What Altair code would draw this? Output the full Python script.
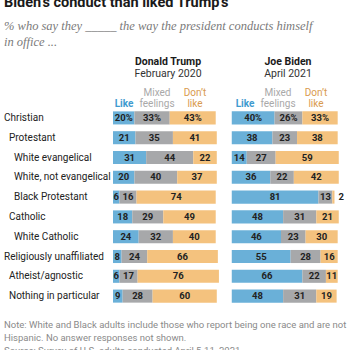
import altair as alt
import pandas as pd

categories = ["Christian", "Protestant", "White evangelical", "White, not evangelical",
              "Black Protestant", "Catholic", "White Catholic", "Religiously unaffiliated",
              "Atheist/agnostic", "Nothing in particular"]
indent = [0, 1, 2, 2, 2, 1, 2, 0, 1, 1]
responses = ["Like", "Mixed feelings", "Don't like"]

trump_like = [20, 21, 31, 20, 6, 18, 24, 8, 6, 9]
trump_mixed = [33, 35, 44, 40, 16, 29, 32, 24, 17, 28]
trump_dislike = [43, 41, 22, 37, 74, 49, 40, 66, 76, 60]

biden_like = [40, 38, 14, 36, 81, 48, 46, 55, 66, 48]
biden_mixed = [26, 23, 27, 22, 13, 31, 23, 28, 22, 31]
biden_dislike = [33, 38, 59, 42, 2, 21, 30, 16, 11, 19]

FONT = "Roboto"
COLORS = ["#6AB0D8", "#A7A8AA", "#F4C27E"]
BIDEN_OFFSET = 111  # panel offset on shared x scale

rows = []
for panel, off, series in [("Trump", 0, [trump_like, trump_mixed, trump_dislike]),
                           ("Biden", BIDEN_OFFSET, [biden_like, biden_mixed, biden_dislike])]:
    for i, cat in enumerate(categories):
        s = off
        for r, vals in zip(responses, series):
            v = vals[i]
            rows.append({
                "panel": panel, "cat": cat, "resp": r, "value": v,
                "start": s, "end": s + v, "mid": s + v / 2,
                "label": f"{v}%" if i == 0 else f"{v}",
            })
            s += v
bars_df = pd.DataFrame(rows)
cats_df = pd.DataFrame({"cat": categories, "indent": indent})

xscale = alt.Scale(domain=[0, 221.5], nice=False, zero=False)
yscale = alt.Scale(domain=categories, paddingInner=0.34, paddingOuter=0.17)

base = alt.Chart(bars_df)

bars = base.mark_bar(cornerRadius=0).encode(
    x=alt.X("start:Q", scale=xscale, axis=None),
    x2="end:Q",
    y=alt.Y("cat:N", scale=yscale, axis=None, sort=categories),
    color=alt.Color("resp:N", scale=alt.Scale(domain=responses, range=COLORS), legend=None),
)

labels = base.transform_filter("datum.value >= 4").mark_text(
    font=FONT, fontSize=9.5, fontWeight="bold", color="#222222", align="center", baseline="middle"
).encode(
    x=alt.X("mid:Q", scale=xscale, axis=None),
    y=alt.Y("cat:N", scale=yscale, axis=None, sort=categories),
    text="label:N",
)

small_labels = base.transform_filter("datum.value < 4").mark_text(
    font=FONT, fontSize=9.5, fontWeight="bold", color="#222222", align="left", baseline="middle", dx=4
).encode(
    x=alt.X("end:Q", scale=xscale, axis=None),
    y=alt.Y("cat:N", scale=yscale, axis=None, sort=categories),
    text="label:N",
)

cat_layers = []
for lvl in [0, 1, 2]:
    cat_layers.append(
        alt.Chart(cats_df).transform_filter(f"datum.indent == {lvl}").mark_text(
            font=FONT, fontSize=10, color="#222222", align="left", baseline="middle"
        ).encode(
            x=alt.value(-109 + 5 * lvl),
            y=alt.Y("cat:N", scale=yscale, axis=None, sort=categories),
            text="cat:N",
        )
    )


def txt(s, x, y, **kw):
    return alt.Chart(alt.Data(values=[{}])).mark_text(text=s, **kw).encode(
        x=alt.value(x), y=alt.value(y)
    )


texts = [
    txt("Biden\u2019s conduct than liked Trump\u2019s", -109, -101.5, font=FONT, fontSize=14.5,
        fontWeight="bold", color="#1a1a1a", align="left", baseline="alphabetic"),
    txt("% who say they _____ the way the president conducts himself", -109, -82,
        font="Liberation Serif", fontSize=12.5, fontStyle="italic", color="#7a7a7a",
        align="left", baseline="middle"),
    txt("in office ...", -109, -66, font="Liberation Serif", fontSize=12.5, fontStyle="italic",
        color="#7a7a7a", align="left", baseline="middle"),
    # panel headers
    txt("Donald Trump", 55, -46, font=FONT, fontSize=10.5, fontWeight="bold", color="#1a1a1a",
        align="center", baseline="middle"),
    txt("February 2020", 55, -34, font=FONT, fontSize=10.5, color="#333333",
        align="center", baseline="middle"),
    txt("Joe Biden", 175, -46, font=FONT, fontSize=10.5, fontWeight="bold", color="#1a1a1a",
        align="center", baseline="middle"),
    txt("April 2021", 175, -34, font=FONT, fontSize=10.5, color="#333333",
        align="center", baseline="middle"),
]
for xo in [0, 121]:
    texts += [
        txt("Like", 11 + xo, -4, font=FONT, fontSize=10, fontWeight="bold", color="#3f9bd0",
            align="center", baseline="middle"),
        txt("Mixed", 44 + xo, -15, font=FONT, fontSize=10, color="#a9a9a9",
            align="center", baseline="middle"),
        txt("feelings", 44 + xo, -4, font=FONT, fontSize=10, color="#a9a9a9",
            align="center", baseline="middle"),
        txt("Don\u2019t", 82 + xo, -15, font=FONT, fontSize=10, color="#d99a4e",
            align="center", baseline="middle"),
        txt("like", 82 + xo, -4, font=FONT, fontSize=10, color="#d99a4e",
            align="center", baseline="middle"),
    ]

texts += [
    txt("Note: White and Black adults include those who report being one race and are not", -109, 217,
        font=FONT, fontSize=9.5, color="#8a8a8a", align="left", baseline="middle"),
    txt("Hispanic. No answer responses not shown.", -109, 230,
        font=FONT, fontSize=9.5, color="#8a8a8a", align="left", baseline="middle"),
    txt("Source: Survey of U.S. adults conducted April 5-11, 2021.", -109, 243,
        font=FONT, fontSize=9.5, color="#8a8a8a", align="left", baseline="middle"),
]

chart = alt.layer(bars, labels, small_labels, *cat_layers, *texts).properties(
    width=237,
    height=198,
    padding={"left": 113, "top": 108, "right": 0, "bottom": 44},
    autosize=alt.AutoSizeParams(type="none"),
    background="white",
).configure_view(stroke=None)

chart.save("out.html", embed_options={"renderer": "svg", "actions": False})
